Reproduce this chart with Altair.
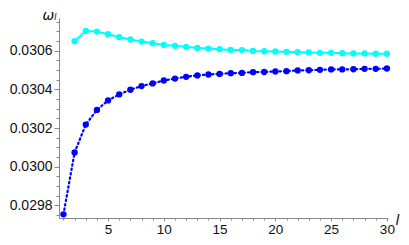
import altair as alt
import pandas as pd

# data
l_blue = list(range(1, 31))
w_blue = [0.029754, 0.030074, 0.030218, 0.030294, 0.030343, 0.030374, 0.030398,
          0.030417, 0.030431, 0.030446, 0.030456, 0.030465, 0.030472, 0.030477,
          0.030480, 0.030484, 0.030485, 0.030489, 0.030490, 0.030493, 0.030494,
          0.030498, 0.030499, 0.030501, 0.030503, 0.030503, 0.030504, 0.030506,
          0.030506, 0.030508]

l_cyan = list(range(2, 31))
w_cyan = [0.030649, 0.030702, 0.030699, 0.030685, 0.030670, 0.030658, 0.030647,
          0.030639, 0.030630, 0.030625, 0.030620, 0.030614, 0.030611, 0.030608,
          0.030604, 0.030603, 0.030599, 0.030597, 0.030596, 0.030594, 0.030592,
          0.030591, 0.030589, 0.030589, 0.030587, 0.030586, 0.030586, 0.030584,
          0.030584]

x_major = [5, 10, 15, 20, 25, 30]
x_minor = list(range(1, 31))
y_major = [0.0298, 0.0300, 0.0302, 0.0304, 0.0306]
y_minor = [round(0.02975 + 0.00005 * i, 5) for i in range(21)]

x_domain = [0.6, 30.1]
y_domain = [0.029735, 0.030769]

df_blue = pd.DataFrame({"l": l_blue, "w": w_blue})
df_cyan = pd.DataFrame({"l": l_cyan, "w": w_cyan})

AX = "#888888"
FONT = "Liberation Sans"
TXT = "#111111"

xs = alt.Scale(domain=x_domain, nice=False, zero=False)
ys = alt.Scale(domain=y_domain, nice=False, zero=False)

# minor ticks axis layer (invisible marks)
minor = alt.Chart(df_blue).mark_point(opacity=0).encode(
    x=alt.X("l:Q", scale=xs, axis=alt.Axis(values=x_minor, labels=False, title=None,
                                           domain=False, grid=False, tickSize=2,
                                           tickColor=AX, orient="bottom")),
    y=alt.Y("w:Q", scale=ys, axis=alt.Axis(values=y_minor, labels=False, title=None,
                                           domain=False, grid=False, tickSize=3,
                                           tickColor=AX, orient="left")),
)

blue_line = alt.Chart(df_blue).mark_line(
    color="#0000ff", strokeWidth=2.2, strokeDash=[1.5, 3], strokeCap="round"
).encode(
    x=alt.X("l:Q", scale=xs, axis=alt.Axis(
        values=x_major, format="d", title="l", grid=False, domainColor=AX,
        tickColor=AX, tickSize=3, labelFontSize=13.5, labelFont=FONT,
        labelColor=TXT, labelPadding=1, orient="bottom",
        titleFont=FONT, titleFontStyle="italic", titleFontWeight="normal",
        titleFontSize=15, titleColor=TXT, titleX=338, titleY=1,
        titleBaseline="middle", titleAlign="center")),
    y=alt.Y("w:Q", scale=ys, axis=alt.Axis(
        values=y_major, format=".4f", title="ωₗ", grid=False, domainColor=AX,
        tickColor=AX, tickSize=5, labelFontSize=14, labelFont=FONT,
        labelColor=TXT, labelPadding=2, orient="left",
        titleAngle=0, titleFont="DejaVu Sans", titleFontStyle="italic",
        titleFontWeight="normal", titleFontSize=14, titleColor=TXT,
        titleX=-10, titleY=-10, titleAlign="center", titleBaseline="top")),
)

blue_pts = alt.Chart(df_blue).mark_circle(color="#0000ff", size=40, opacity=1).encode(
    x=alt.X("l:Q", scale=xs, axis=None),
    y=alt.Y("w:Q", scale=ys, axis=None),
)

cyan_line = alt.Chart(df_cyan).mark_line(color="#00ffff", strokeWidth=2).encode(
    x=alt.X("l:Q", scale=xs, axis=None),
    y=alt.Y("w:Q", scale=ys, axis=None),
)

cyan_pts = alt.Chart(df_cyan).mark_circle(color="#00ffff", size=40, opacity=1).encode(
    x=alt.X("l:Q", scale=xs, axis=None),
    y=alt.Y("w:Q", scale=ys, axis=None),
)

chart = alt.layer(minor, blue_line, blue_pts, cyan_line, cyan_pts).resolve_scale(
    x="shared", y="shared"
).resolve_axis(
    x="independent", y="independent"
).properties(
    width=329, height=200,
    autosize=alt.AutoSizeParams(type="none"),
    padding={"left": 51, "top": 10, "right": 13, "bottom": 19},
).configure_view(stroke=None)

chart.save("out.html", embed_options={"renderer": "svg", "actions": False})
